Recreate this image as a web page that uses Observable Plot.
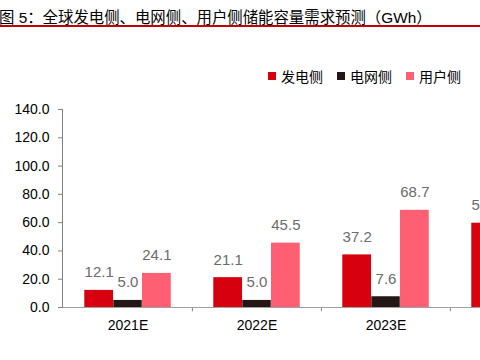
<!DOCTYPE html>
<html>
<head>
<meta charset="utf-8">
<script src="https://cdn.jsdelivr.net/npm/d3@7"></script>
<script src="https://cdn.jsdelivr.net/npm/@observablehq/plot@0.6"></script>
<style>
  html, body { margin: 0; padding: 0; background: #fff; }
  body { width: 480px; height: 360px; overflow: hidden; position: relative;
         font-family: "Liberation Sans", Arial, "Noto Sans CJK SC", sans-serif; }
  #title { position: absolute; left: -1px; top: 5px; font-size: 15.4px; color: #000; white-space: nowrap;
           font-family: "Liberation Sans", Arial, "Noto Sans CJK SC", sans-serif; }
  #rule { position: absolute; left: 0; top: 25px; width: 480px; height: 1.5px; background: #c00000; }
  #legend { position: absolute; top: 66px; left: 268px; font-size: 14px; white-space: nowrap; display: flex; }
  .item { display: flex; align-items: center; margin-right: 14px; }
  .sw { width: 8px; height: 8px; margin-right: 5px; }
  #chart { position: absolute; left: 0; top: 0; width: 600px; }
  #chart svg { max-width: none !important; width: 600px; height: 347px; }
</style>
</head>
<body>
<div id="title">图 5：全球发电侧、电网侧、用户侧储能容量需求预测（GWh）</div>
<div id="rule"></div>
<div id="legend"></div>
<div id="chart"></div>
<script>
const years = ["2021E", "2022E", "2023E", "2024E"];
const seriesNames = ["发电侧", "电网侧", "用户侧"];
const seriesColors = ["#d7000f", "#231815", "#ff5f73"];
const genSide = [12.1, 21.1, 37.2, 59.6];
const gridSide = [5.0, 5.0, 7.6, null];
const userSide = [24.1, 45.5, 68.7, null];
const yTicks = [0, 20, 40, 60, 80, 100, 120, 140];

const seriesValues = [genSide, gridSide, userSide];
const rows = [];
seriesNames.forEach((s, si) => years.forEach((yr, i) => {
  const v = seriesValues[si][i];
  if (v != null) rows.push({year: yr, series: s, value: v});
}));

const W = 600, ML = 62, MR = 21;
const step = (W - ML - MR) / years.length;
// bar positions within group (px from group's left edge)
const barEdges = [[21.3, 50.3], [50.3, 79], [79, 108]];
const fmt = d3.format(".1f");
const font = '"Liberation Sans", Arial, "Noto Sans CJK SC", sans-serif';

const marks = [];
seriesNames.forEach((s, si) => {
  const [l, r] = barEdges[si];
  const data = rows.filter(d => d.series === s);
  marks.push(Plot.barY(data, {x: "year", y: "value", fill: seriesColors[si],
    insetLeft: l, insetRight: step - r}));
  marks.push(Plot.text(data, {x: "year", y: "value", text: d => fmt(d.value),
    dx: (l + r) / 2 - step / 2, dy: -13, lineAnchor: "bottom", fill: "#6b6b6b", fontSize: 15}));
});

const chart = Plot.plot({
  width: W, height: 347,
  marginLeft: ML, marginRight: MR, marginTop: 109, marginBottom: 40,
  style: {fontFamily: font, fontSize: "14px", color: "#000", background: "transparent", overflow: "visible"},
  x: {domain: years, padding: 0, axis: null, label: null},
  y: {domain: [0, 140], axis: null, label: null},
  marks: [
    Plot.axisY({ticks: yTicks, tickFormat: fmt, tickSize: 4, tickPadding: 9, stroke: "#808080", fontSize: 14, label: null}),
    Plot.axisX({tickSize: 0, tickPadding: 13, fontSize: 14, label: null}),
    Plot.ruleX(years.slice(1), {x: d => d, dx: -step / 2, y1: 0, y2: -3, stroke: "#808080"}),
    ...marks,
    Plot.ruleY([0], {stroke: "#a0a0a0"}),
    Plot.frame({anchor: "left", stroke: "#808080"})
  ]
});
document.getElementById("chart").appendChild(chart);

const legend = document.getElementById("legend");
seriesNames.forEach((s, i) => {
  const it = document.createElement("div");
  it.className = "item";
  const sw = document.createElement("div");
  sw.className = "sw";
  sw.style.background = seriesColors[i];
  const t = document.createElement("span");
  t.textContent = s;
  it.appendChild(sw); it.appendChild(t);
  legend.appendChild(it);
});
</script>
</body>
</html>
